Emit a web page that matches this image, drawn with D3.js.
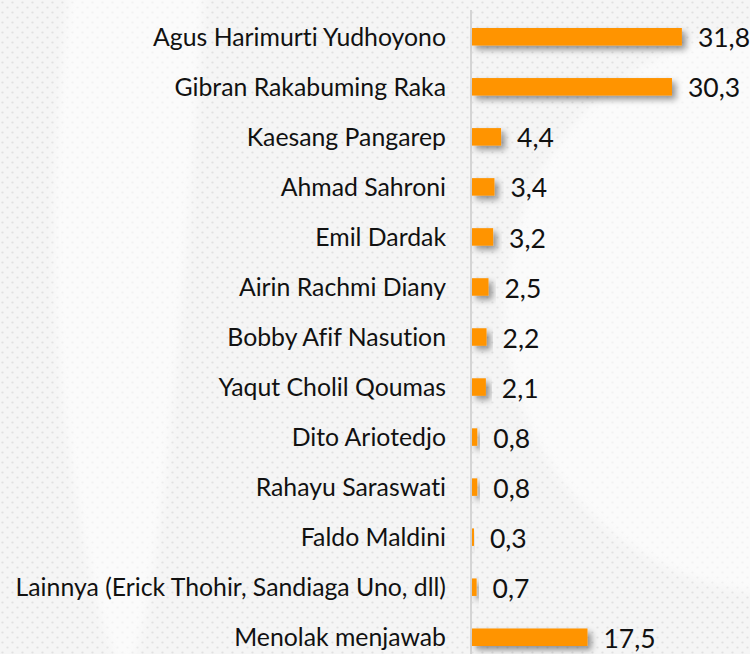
<!DOCTYPE html>
<html>
<head>
<meta charset="utf-8">
<script src="https://cdn.jsdelivr.net/npm/d3@7"></script>
<style>
  html, body { margin: 0; padding: 0; background: #fff; }
  svg { display: block; }
  text { font-variant-ligatures: none; font-feature-settings: "liga" 0; }
</style>
</head>
<body>
<div id="chart"></div>
<script>
var names = ["Agus Harimurti Yudhoyono", "Gibran Rakabuming Raka", "Kaesang Pangarep",
  "Ahmad Sahroni", "Emil Dardak", "Airin Rachmi Diany", "Bobby Afif Nasution",
  "Yaqut Cholil Qoumas", "Dito Ariotedjo", "Rahayu Saraswati", "Faldo Maldini",
  "Lainnya (Erick Thohir, Sandiaga Uno, dll)", "Menolak menjawab"];
var values = [31.8, 30.3, 4.4, 3.4, 3.2, 2.5, 2.2, 2.1, 0.8, 0.8, 0.3, 0.7, 17.5];

var width = 750,
    height = 654;

var svg = d3.select("#chart").append("svg")
    .attr("width", width)
    .attr("height", height);

var defs = svg.append("defs");

// dotted background
var pat = defs.append("pattern")
    .attr("id", "dots")
    .attr("width", 10).attr("height", 10)
    .attr("patternUnits", "userSpaceOnUse");
pat.append("rect").attr("width", 10).attr("height", 10).attr("fill", "#f5f5f5");
pat.append("circle").attr("cx", 2.5).attr("cy", 2.5).attr("r", 1.1).attr("fill", "#e0e0e0");
pat.append("circle").attr("cx", 7.5).attr("cy", 7.5).attr("r", 1.1).attr("fill", "#e0e0e0");

var shadow = defs.append("filter")
    .attr("id", "shadow")
    .attr("x", "-20%").attr("y", "-50%")
    .attr("width", "160%").attr("height", "220%");
shadow.append("feDropShadow")
    .attr("dx", 4).attr("dy", 4)
    .attr("stdDeviation", 3)
    .attr("flood-color", "#000")
    .attr("flood-opacity", 0.4);

var blur = defs.append("filter").attr("id", "soft");
blur.append("feGaussianBlur").attr("stdDeviation", 5);

svg.append("rect")
    .attr("width", width).attr("height", height)
    .attr("fill", "url(#dots)");

// faint watermark: lighter inner disc on the right + lighter band on the left
var wm = svg.append("g").attr("fill", "#fff").attr("opacity", 0.6).attr("filter", "url(#soft)");
wm.append("circle").attr("cx", 790).attr("cy", 310).attr("r", 285);
wm.append("path")
    .attr("d", d3.line().curve(d3.curveBasis)([[70, -20], [40, 300], [105, 680], [145, 680], [185, 300], [205, -20]]));

var margin = {top: 12, left: 472};

var x = d3.scaleLinear()
    .domain([0, 35])
    .range([margin.left, margin.left + 231]);

var y = d3.scaleBand()
    .domain(names)
    .range([margin.top, margin.top + 50 * names.length])
    .paddingInner(0.65)
    .paddingOuter(0.32);

// vertical axis line
svg.append("line")
    .attr("x1", margin.left - 1).attr("x2", margin.left - 1)
    .attr("y1", 10).attr("y2", height)
    .attr("stroke", "#d4d4d4")
    .attr("stroke-width", 2);

var rows = svg.selectAll(".row")
    .data(names)
    .enter().append("g")
    .attr("class", "row");

rows.append("rect")
    .attr("x", x(0))
    .attr("y", function(d) { return y(d); })
    .attr("width", function(d, i) { return x(values[i]) - x(0); })
    .attr("height", y.bandwidth())
    .attr("fill", "#ff9400")
    .attr("filter", "url(#shadow)");

rows.append("text")
    .attr("x", margin.left - 26)
    .attr("y", function(d) { return y(d) + y.bandwidth() / 2; })
    .attr("dy", "0.36em")
    .attr("text-anchor", "end")
    .style("font-family", "Lato, 'Open Sans', sans-serif")
    .style("font-size", "24.8px")
    .attr("fill", "#111")
    .text(function(d) { return d; });

rows.append("text")
    .attr("x", function(d, i) { return x(values[i]) + 16; })
    .attr("y", function(d) { return y(d) + y.bandwidth() / 2; })
    .attr("dy", "0.4em")
    .style("font-family", "Lato, 'Open Sans', sans-serif")
    .style("font-size", "26.5px")
    .attr("fill", "#111")
    .text(function(d, i) { return d3.format(".1f")(values[i]).replace(".", ","); });
</script>
</body>
</html>
